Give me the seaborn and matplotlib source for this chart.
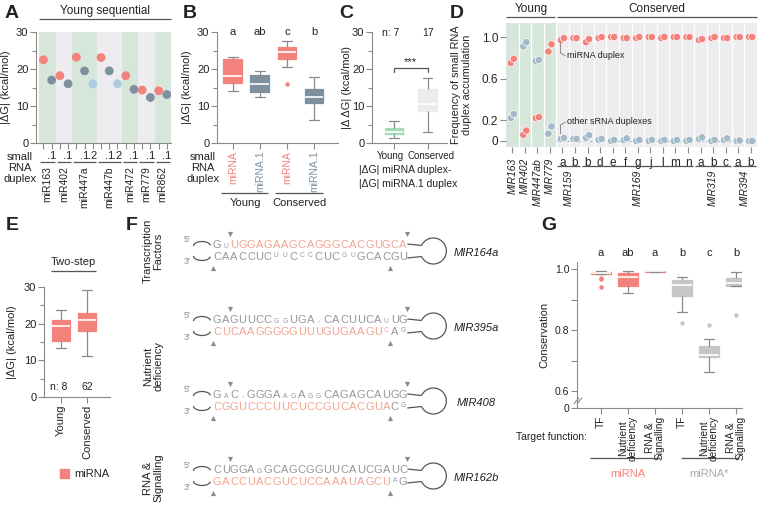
import numpy as np
import pandas as pd
import matplotlib
matplotlib.use("Agg")
import matplotlib.pyplot as plt
import seaborn as sns
from matplotlib import font_manager
from matplotlib.patches import Arc, Patch
from matplotlib.transforms import ScaledTranslation

# ---------------- data ----------------
# Panel A: |dG| per small RNA duplex (young sequential miRNAs)
a_groups = ["miR163", "miR402", "miR447a", "miR447b", "miR472", "miR779", "miR862"]
a_mirna = [22.5, 18.2, 23.2, 23.1, 18.2, 14.3, 14.1]
a_mirna_1 = [17.0, 16.0, 19.5, 19.5, 14.5, 12.3, 13.1]
a_mirna_2 = [None, None, 16.0, 16.0, None, None, None]

# Panel B: |dG| young vs conserved
b_letters = ["a", "ab", "c", "b"]
b_cons_mirna = [16.0, 20.5, 21.8, 22.4, 22.6, 23.2, 23.8, 24.3, 24.5, 24.8, 25.2, 25.6, 25.9, 26.1, 26.6, 27.0, 27.5]
b_cons_mirna_1 = [6.3, 8.0, 9.5, 10.4, 10.8, 11.3, 11.8, 12.2, 12.5, 12.9, 13.3, 13.8, 14.5, 15.2, 16.0, 17.0, 17.8]

# Panel C: |ddG|
c_young = [1.4, 2.0, 2.6, 3.0, 3.6, 4.4, 6.0]
c_cons = [3.0, 5.5, 7.0, 8.0, 8.6, 9.3, 9.8, 10.2, 10.5, 11.3, 12.0, 13.2, 14.6, 15.3, 16.0, 16.8, 17.5]
c_n = [7, 17]

# Panel D: frequency of small RNA duplex accumulation (two replicates)
d_young = ["MIR163", "MIR402", "MIR447ab", "MIR779"]
d_families = ["MIR159", "MIR169", "MIR319", "MIR394"]
d_members = [["a", "b"], ["b", "d", "e", "f", "g", "j", "l", "m", "n"], ["a", "b", "c"], ["a", "b"]]
d_mirna_r1 = [0.75, 0.06, 0.22, 0.86, 0.97, 0.99, 0.95, 0.99, 1.0, 0.99, 0.99, 1.0, 0.99, 1.0, 1.0, 0.97, 0.99, 0.99, 1.0, 1.0]
d_mirna_r2 = [0.79, 0.10, 0.23, 0.93, 0.99, 0.99, 0.98, 1.0, 1.0, 0.99, 1.0, 1.0, 1.0, 1.0, 1.0, 0.98, 1.0, 0.99, 1.0, 1.0]
d_other_r1 = [0.22, 0.91, 0.77, 0.07, 0.02, 0.02, 0.03, 0.01, 0.0, 0.01, 0.0, 0.0, 0.0, 0.0, 0.0, 0.02, 0.0, 0.01, 0.0, 0.0]
d_other_r2 = [0.26, 0.95, 0.78, 0.14, 0.03, 0.02, 0.055, 0.02, 0.01, 0.025, 0.01, 0.01, 0.01, 0.01, 0.01, 0.035, 0.01, 0.025, 0.005, 0.0]

# Panel E: two-step |dG|
e_young = [13.4, 14.9, 15.3, 19.0, 20.0, 20.8, 21.6, 23.8]
e_cons = [11.3, 14.5, 16.8, 18.1, 19.2, 20.3, 21.0, 21.6, 22.3, 22.9, 24.5, 26.8, 29.1]
e_n = [8, 62]

# Panel F: duplex sequence logos
f_names = ["MIR164a", "MIR395a", "MIR408", "MIR162b"]
f_top = ["GuUGGAGAAGCAGGGCACGUGCA", "GAGUUCCggUGA-CACUUCAuUG", "GaC-GGGAagAggCAGAGCAUGG", "CUGGAgGCAGCGGUUCAUCGAUC"]
f_bottom = ["CAACCUCuuCccCUCguGCACGU", "CUCAAGGGGGUUUGUGAAGUcAg", "CGGUCCCUUCUCCGUCACGUACg", "GACCUACGUCUCCAAAUAGCUaG"]
f_top_mirna = [(2, 23), None, None, None]
f_bottom_mirna = [None, (0, 21), (0, 21), (0, 21)]
f_groups = ["Transcription\nFactors", "Nutrient\ndeficiency", "RNA &\nSignalling"]

# Panel G: conservation by target function
g_functions = ["TF", "Nutrient\ndeficiency", "RNA &\nSignalling"]
g_letters = ["a", "ab", "a", "b", "c", "b"]
g_mirna_tf = [0.942, 0.966, 0.972, 0.984, 0.985, 0.986, 0.987, 0.988, 0.989, 0.990, 0.991, 0.992, 0.993]
g_mirna_nut = [0.920, 0.932, 0.944, 0.962, 0.975, 0.982, 0.988, 0.991, 0.993]
g_mirna_rna = [0.989, 0.990, 0.991, 0.991, 0.992, 0.992, 0.993, 0.994, 0.995]
g_star_tf = [0.824, 0.860, 0.911, 0.930, 0.948, 0.955, 0.964, 0.970, 0.974]
g_star_nut = [0.663, 0.680, 0.700, 0.710, 0.713, 0.716, 0.718, 0.728, 0.740, 0.748, 0.760, 0.770, 0.816]
g_star_rna = [0.849, 0.944, 0.944, 0.944, 0.948, 0.952, 0.955, 0.960, 0.965, 0.9695, 0.975, 0.982, 0.991]

# ---------------- style ----------------
SALMON = "#F2827B"
SLATE = "#7E909D"
LIGHTBLUE = "#ADCCE0"
DBLUE = "#A2B9C9"
GREEN_BG = "#D6E6DA"
GREY_BG = "#EDEDEF"
CGREEN = "#A3DBB3"
CGREY = "#ECECEC"
GSTAR = "#C6C6C6"
WG = "#8A8A8A"
LINE = "#555555"
TXT = "#222222"
LOGO_S = "#F1A48F"
LOGO_G = "#979797"

sns.set_theme(style="ticks")
avail = {f.name for f in font_manager.fontManager.ttflist}
main = "Liberation Sans Narrow" if "Liberation Sans Narrow" in avail else "Liberation Sans"
plt.rcParams["font.family"] = [main, "DejaVu Sans"]
plt.rcParams["text.color"] = TXT
plt.rcParams["axes.linewidth"] = 0.8

FS = 8          # general text size
TFS = 8         # tick label size

W, H = 760, 516
fig = plt.figure(figsize=(W / 100, H / 100), dpi=100)


def rect(x0, y0, x1, y1):
    return [x0 / W, 1 - y1 / H, (x1 - x0) / W, (y1 - y0) / H]


def style(ax, fs=TFS):
    ax.set_facecolor("none")
    for s in ["top", "right"]:
        ax.spines[s].set_visible(False)
    for s in ["left", "bottom"]:
        ax.spines[s].set_color(WG)
    ax.tick_params(colors=WG, labelcolor=TXT, labelsize=fs, length=4, width=0.8, pad=1.5)
    ax.tick_params(which="minor", colors=WG, length=3, width=0.8)
    ax.set_xlabel("")
    ax.set_ylabel("")


def ylab(ax, text, xpx, fs=FS):
    x0 = ax.get_position().x0 * W
    w = ax.get_position().width * W
    ax.set_ylabel(text, fontsize=fs, color=TXT, linespacing=1.1)
    ax.yaxis.set_label_coords((xpx - x0) / w, 0.5)


def boxes(ax, df, x, y, order, colors, width):
    pal = dict(zip(order, colors))
    sns.boxplot(data=df, x=x, y=y, hue=x, order=order, hue_order=order, palette=pal,
                width=width, dodge=False, legend=False, ax=ax, linewidth=0.9,
                linecolor=WG, fliersize=3.2, saturation=1,
                medianprops=dict(color="white", linewidth=1.2),
                flierprops=dict(marker="o", markeredgecolor="none"))
    for p in ax.patches:
        p.set_edgecolor(p.get_facecolor())
    for ln in ax.lines:
        if ln.get_marker() == "o" and len(ln.get_xdata()):
            i = int(round(float(np.mean(ln.get_xdata()))))
            ln.set_markerfacecolor(colors[i])
    ax.set_xlabel("")
    ax.set_ylabel("")


# overlay for annotations in pixel coordinates
ov = fig.add_axes([0, 0, 1, 1])
ov.set_xlim(0, W)
ov.set_ylim(H, 0)
ov.axis("off")
ov.set_zorder(10)
ov.patch.set_alpha(0)


def T(x, y, s, **kw):
    kw.setdefault("fontsize", FS)
    kw.setdefault("ha", "center")
    kw.setdefault("va", "center")
    ov.text(x, y, s, **kw)


def L(xs, ys, color=LINE, lw=0.9, **kw):
    ov.plot(xs, ys, color=color, lw=lw, solid_capstyle="butt", **kw)


def px(ax, x):
    return ax.transData.transform((x, 0))[0]


def py(ax, y):
    return H - ax.transData.transform((0, y))[1]


def panel(x, y, s):
    T(x, y, s, fontsize=14, fontweight="bold", ha="left", family=["Liberation Sans", "DejaVu Sans"])


# ---------------- Panel A ----------------
axA = fig.add_axes(rect(36, 32, 171, 143))
rowsA, spans = [], []
pos = 0
for g, m, s1, s2 in zip(a_groups, a_mirna, a_mirna_1, a_mirna_2):
    start = pos
    for val, kind in ((m, "miRNA"), (s1, "miRNA.1"), (s2, "miRNA.2")):
        if val is None:
            continue
        rowsA.append((pos, val, kind))
        pos += 1
    spans.append((g, start, pos - 1))
dfA = pd.DataFrame(rowsA, columns=["slot", "dG", "duplex"])
for k, (g, s, e) in enumerate(spans):
    axA.axvspan(s - 0.5, e + 0.5, color=GREEN_BG if k % 2 == 0 else GREY_BG, lw=0, zorder=0)
sns.scatterplot(data=dfA, x="slot", y="dG", hue="duplex",
                palette={"miRNA": SALMON, "miRNA.1": SLATE, "miRNA.2": LIGHTBLUE},
                s=40, edgecolor="none", legend=False, ax=axA, zorder=3)
axA.set_xlim(-0.9, pos - 0.5)
axA.set_ylim(0, 30)
axA.set_yticks([0, 10, 20, 30])
axA.set_yticks([5, 15, 25], minor=True)
axA.set_xticks(range(pos))
axA.set_xticklabels(["" if k == "miRNA" else k.replace("miRNA", "") for k in dfA["duplex"]])
style(axA)
ylab(axA, "|ΔG| (kcal/mol)", 11)
for g, s, e in spans:
    L([px(axA, s - 0.38), px(axA, e + 0.38)], [162, 162])
    T(px(axA, (s + e) / 2), 166, g, rotation=90, va="top", fontsize=7.5)
T(20, 152, "small\nRNA\nduplex", va="top", fontsize=FS, linespacing=1.15)
T(105, 11, "Young sequential", fontsize=8.5)
L([39, 171], [19, 19])
panel(5, 13, "A")

# ---------------- Panel B ----------------
axB = fig.add_axes(rect(217, 32, 338, 143))
b_order = ["Young miRNA", "Young miRNA.1", "Conserved miRNA", "Conserved miRNA.1"]
b_vals = [a_mirna, a_mirna_1, b_cons_mirna, b_cons_mirna_1]
dfB = pd.DataFrame([(k, v) for k, vs in zip(b_order, b_vals) for v in vs], columns=["duplex", "dG"])
b_colors = [SALMON, SLATE, SALMON, SLATE]
boxes(axB, dfB, "duplex", "dG", b_order, b_colors, 0.7)
axB.set_xlim(-0.59, 3.89)
axB.set_ylim(0, 30)
axB.set_yticks([0, 10, 20, 30])
axB.set_yticks([5, 15, 25], minor=True)
axB.set_xticks(range(4))
axB.set_xticklabels([o.split()[1] for o in b_order], rotation=90)
style(axB)
axB.tick_params(axis="x", labelsize=7.5)
for lab, c in zip(axB.get_xticklabels(), b_colors):
    lab.set_color(c)
for i, t in enumerate(b_letters):
    axB.text(i, 30, t, ha="center", va="center", fontsize=FS, clip_on=False)
ylab(axB, "|ΔG| (kcal/mol)", 192)
T(203, 152, "small\nRNA\nduplex", va="top", fontsize=FS, linespacing=1.15)
L([px(axB, -0.45), px(axB, 1.3)], [193, 193])
L([px(axB, 1.55), px(axB, 3.35)], [193, 193])
T(px(axB, 0.45), 203, "Young")
T(px(axB, 2.45), 203, "Conserved")
panel(183, 13, "B")

# ---------------- Panel C ----------------
axC = fig.add_axes(rect(372, 32, 447, 143))
c_order = ["Young", "Conserved"]
dfC = pd.DataFrame([(k, v) for k, vs in zip(c_order, [c_young, c_cons]) for v in vs], columns=["set", "ddG"])
boxes(axC, dfC, "set", "ddG", c_order, [CGREEN, CGREY], 0.55)
axC.set_xlim(-0.66, 1.58)
axC.set_ylim(0, 30)
axC.set_yticks([0, 10, 20, 30])
axC.set_yticks([5, 15, 25], minor=True)
axC.set_xticks([0, 1])
axC.set_xticklabels(c_order)
style(axC)
axC.tick_params(axis="x", labelsize=7)
for lab, dxp in zip(axC.get_xticklabels(), (-3.5, 3.5)):
    lab.set_transform(lab.get_transform() + ScaledTranslation(dxp / 100, 0, fig.dpi_scale_trans))
axC.text(-0.1, 29.6, f"n: {c_n[0]}", ha="center", va="center", fontsize=7.5)
axC.text(1.0, 29.6, f"{c_n[1]}", ha="center", va="center", fontsize=7.5)
axC.plot([0, 0, 1, 1], [19.2, 20.3, 20.3, 19.2], color=LINE, lw=0.9)
axC.text(0.5, 20.6, "***", ha="center", va="bottom", fontsize=FS)
ylab(axC, "|Δ ΔG| (kcal/mol)", 352)
T(359, 177, "|ΔG| miRNA duplex-\n|ΔG| miRNA.1 duplex", ha="left", fontsize=7.5, linespacing=1.4)
panel(339, 13, "C")

# ---------------- Panel D ----------------
axD = fig.add_axes(rect(506, 23, 757, 147))
d_cols = d_young + [f + m for f, ms in zip(d_families, d_members) for m in ms]
nD = len(d_cols)
axD.axvspan(-0.5, len(d_young) - 0.5, color=GREEN_BG, lw=0, zorder=0)
axD.axvspan(len(d_young) - 0.5, nD - 0.5, color=GREY_BG, lw=0, zorder=0)
for i in range(nD - 1):
    axD.axvline(i + 0.5, color="white", lw=0.9, zorder=1)
axD.plot([len(d_young) - 0.5, nD - 0.5], [0, 0], color=DBLUE, lw=0.8, ls=(0, (2.5, 2.5)), zorder=1)
rowsD = []
for i in range(nD):
    for off, mv, ov_ in ((-0.12, d_mirna_r1[i], d_other_r1[i]), (0.12, d_mirna_r2[i], d_other_r2[i])):
        rowsD.append((i + off, mv, "miRNA duplex"))
        rowsD.append((i + off, ov_, "other sRNA duplexes"))
dfD = pd.DataFrame(rowsD, columns=["col", "freq", "kind"])
sns.scatterplot(data=dfD, x="col", y="freq", hue="kind",
                palette={"miRNA duplex": SALMON, "other sRNA duplexes": DBLUE},
                s=28, edgecolor="white", linewidth=0.5, legend=False, ax=axD, zorder=3)
axD.set_xlim(-0.5, nD - 0.5)
axD.set_ylim(-0.058, 1.135)
axD.set_yticks([0, 0.2, 0.6, 1.0])
axD.set_yticklabels(["0", "0.2", "0.6", "1.0"])
axD.set_xticks(range(nD))
axD.set_xticklabels([""] * len(d_young) + [m for ms in d_members for m in ms])
style(axD, fs=8.5)
for s in ["left", "bottom"]:
    axD.spines[s].set_visible(False)
axD.tick_params(axis="x", pad=3)
ylab(axD, "Frequency of small RNA\nduplex accumulation", 472, fs=7.8)
for i, nm in enumerate(d_young):
    T(px(axD, i), 158, nm, rotation=90, va="top", fontsize=7.5, style="italic")
c0 = len(d_young)
for f, ms in zip(d_families, d_members):
    a, b = c0, c0 + len(ms) - 1
    L([px(axD, a - 0.42), px(axD, b + 0.42)], [166, 166])
    T(px(axD, (a + b) / 2), 170, f, rotation=90, va="top", fontsize=7.5, style="italic")
    c0 = b + 1
x4 = px(axD, 4)
L([x4 - 2, x4 - 2, x4 + 3], [43, 53, 56], color=WG, lw=0.7)
T(x4 + 5, 56, "miRNA duplex", ha="left", fontsize=6.5)
L([x4 + 3, x4 - 2, x4 - 2], [122, 125, 134], color=WG, lw=0.7)
T(x4 + 5, 122, "other sRNA duplexes", ha="left", fontsize=6.5)
T(px(axD, 1.5), 9, "Young", fontsize=8.5)
L([px(axD, -0.5), px(axD, 3.4)], [17, 17])
T(px(axD, 11.5), 9, "Conserved", fontsize=8.5)
L([px(axD, 3.6), 757], [17, 17])
panel(450, 13, "D")

# ---------------- Panel E ----------------
axE = fig.add_axes(rect(44, 287, 110, 397))
e_order = ["Young", "Conserved"]
dfE = pd.DataFrame([(k, v) for k, vs in zip(e_order, [e_young, e_cons]) for v in vs], columns=["set", "dG"])
boxes(axE, dfE, "set", "dG", e_order, [SALMON, SALMON], 0.7)
axE.set_xlim(-0.65, 1.88)
axE.set_ylim(0, 30)
axE.set_yticks([0, 10, 20, 30])
axE.set_yticks([5, 15, 25], minor=True)
axE.set_xticks([0, 1])
axE.set_xticklabels(e_order, rotation=90)
style(axE)
axE.text(-0.1, 2.7, f"n: {e_n[0]}", ha="center", va="center", fontsize=7.5)
axE.text(1.0, 2.7, f"{e_n[1]}", ha="center", va="center", fontsize=7.5)
ylab(axE, "|ΔG| (kcal/mol)", 17)
T(73, 262, "Two-step", fontsize=FS)
L([51, 96], [271, 271])
fig.legend(handles=[Patch(color=SALMON, label="miRNA")], loc="center left",
           bbox_to_anchor=(50 / W, 1 - 474 / H), frameon=False, fontsize=FS,
           handlelength=0.8, handleheight=0.9, handletextpad=0.5)
panel(6, 226, "E")

# ---------------- Panel F ----------------
panel(126, 226, "F")
big = 8.0
small = 4.8
colw = 8.45
x_start = 213
for k, nm in enumerate(f_names):
    yc = 251 + 75 * k
    for row, seq, span in ((0, f_top[k], f_top_mirna[k]), (1, f_bottom[k], f_bottom_mirna[k])):
        for j, ch in enumerate(seq):
            col = LOGO_S if (span and span[0] <= j < span[1]) else LOGO_G
            is_small = (not ch.isupper())
            T(x_start + colw * (j + 0.5), yc - 1 if row == 0 else yc + 1, ch.upper(),
              fontsize=small if is_small else big, color=col,
              va="bottom" if row == 0 else "top", family=["Liberation Sans", "DejaVu Sans"])
    # duplex boundary marks
    for j in (2, 23):
        ov.scatter([x_start + colw * j], [yc - 17], marker="v", s=14, color=WG, lw=0)
    for j in (0, 21):
        ov.scatter([x_start + colw * j], [yc + 17], marker="^", s=14, color=WG, lw=0)
    # 5'/3' arms
    T(187, yc - 11, "5'", fontsize=6.5, color=WG)
    T(187, yc + 11, "3'", fontsize=6.5, color=WG)
    ov.add_patch(Arc((202, yc - 5), 17, 9, theta1=180, theta2=355, color=LINE, lw=0.9))
    ov.add_patch(Arc((202, yc + 5), 17, 9, theta1=5, theta2=180, color=LINE, lw=0.9))
    # hairpin loop
    xe = x_start + colw * 23
    cx = xe + 26
    ov.add_patch(Arc((cx, yc), 26, 26, theta1=-155, theta2=155, color=LINE, lw=0.9))
    L([xe, cx - 11.8], [yc - 7, yc - 5.5])
    L([xe, cx - 11.8], [yc + 7, yc + 5.5])
    T(476, yc + 2, nm, fontsize=FS, style="italic")
T(153, 251, f_groups[0], rotation=90, fontsize=FS, linespacing=1.05)
T(153, 366, f_groups[1], rotation=90, fontsize=FS, linespacing=1.05)
T(153, 478, f_groups[2], rotation=90, fontsize=FS, linespacing=1.05)

# ---------------- Panel G ----------------
axG = fig.add_axes(rect(577, 262, 742, 408))
g_order = [f"miRNA {f}" for f in g_functions] + [f"miRNA* {f}" for f in g_functions]
g_vals = [g_mirna_tf, g_mirna_nut, g_mirna_rna, g_star_tf, g_star_nut, g_star_rna]
dfG = pd.DataFrame([(k, v) for k, vs in zip(g_order, g_vals) for v in vs], columns=["group", "cons"])
g_colors = [SALMON] * 3 + [GSTAR] * 3
boxes(axG, dfG, "group", "cons", g_order, g_colors, 0.75)
ybot = 0.5443
axG.set_xlim(-0.89, 5.22)
axG.set_ylim(ybot, 1.023)
axG.set_yticks([ybot, 0.6, 0.7, 0.8, 0.9, 1.0])
axG.set_yticklabels(["0", "0.6", "", "0.8", "", "1.0"])
axG.set_xticks(range(6))
axG.set_xticklabels(g_functions * 2, rotation=90, linespacing=0.95)
style(axG, fs=7.5)
axG.tick_params(axis="x", labelsize=7.3)
for i, t in enumerate(g_letters):
    axG.text(i, 1.052, t, ha="center", va="center", fontsize=FS, clip_on=False)
ylab(axG, "Conservation", 549)
yb = py(axG, 0.568)
L([574, 579], [yb + 3, yb - 3], color=WG, lw=0.8)
L([577, 582], [yb + 3, yb - 3], color=WG, lw=0.8)
T(587, 437, "Target function:", ha="right", fontsize=7.5)
L([px(axG, -0.4), px(axG, 2.2)], [458, 458])
T(px(axG, 1), 474, "miRNA", color=SALMON, fontsize=FS)
L([px(axG, 2.95), px(axG, 5.1)], [458, 458])
T(px(axG, 4), 474, "miRNA*", color="#AAAAAA", fontsize=FS)
panel(541, 226, "G")

fig.savefig("out.png", dpi=100)
